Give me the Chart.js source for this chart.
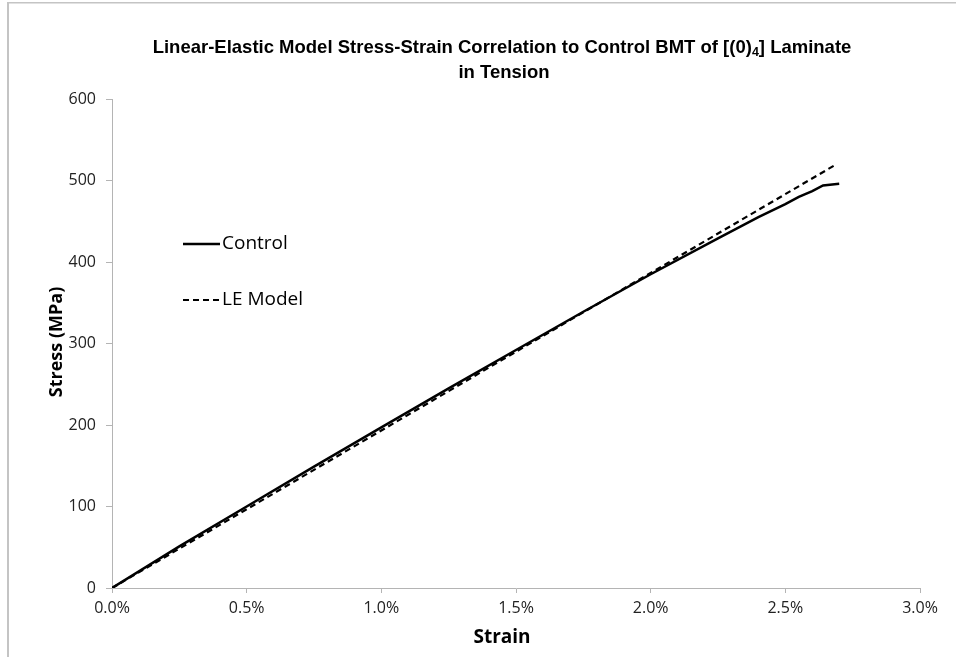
<!DOCTYPE html>
<html><head><meta charset="utf-8">
<script src="https://cdn.jsdelivr.net/npm/chart.js@4/dist/chart.umd.min.js"></script>
<style>html,body{margin:0;padding:0;background:#fff;overflow:hidden;}canvas{display:block;}</style>
</head><body>
<canvas id="c" width="956" height="657"></canvas>
<script>
// ---- data (strain in %, stress in MPa) ----
const controlStrain = [0, 0.25, 0.5, 0.75, 1.0, 1.25, 1.5, 1.75, 2.0, 2.25, 2.4, 2.5, 2.55, 2.6, 2.64, 2.70];
const controlStress = [0, 51, 100, 149, 197, 245, 292, 339, 385, 429, 455, 471, 480, 487, 494, 496];
const modelStrain = [0, 2.69];
const modelStress = [0, 520];
const seriesNames = ['Control', 'LE Model'];
const xTicks = [0, 0.5, 1.0, 1.5, 2.0, 2.5, 3.0];
const yTicks = [0, 100, 200, 300, 400, 500, 600];
const titleMain = 'Linear-Elastic Model Stress-Strain Correlation to Control BMT of [(0)';
const titleSub = '4';
const titleEnd = '] Laminate';
const titleLine2 = 'in Tension';
const xTitle = 'Strain';
const yTitle = 'Stress (MPa)';

const toPts = (xs, ys) => xs.map((x, i) => ({x: x, y: ys[i]}));

const TICK_FONT = '"Open Sans", sans-serif';
const TITLE_FONT = '"Liberation Sans Narrow", "Liberation Sans", sans-serif';

const decor = {
  id: 'decor',
  beforeDraw(chart) {
    const ctx = chart.ctx;
    ctx.save();
    ctx.fillStyle = '#fff';
    ctx.fillRect(0, 0, chart.width, chart.height);
    ctx.fillStyle = '#c4c4c4';
    ctx.fillRect(7, 2, 2, chart.height - 2);
    ctx.fillRect(7, 2, chart.width - 7, 1.5);
    ctx.restore();
  },
  afterDraw(chart) {
    const ctx = chart.ctx;
    ctx.save();
    ctx.fillStyle = '#000';
    ctx.textBaseline = 'middle';
    // title line 1 with subscript
    const f1 = 'bold 18.5px ' + TITLE_FONT;
    const fs = 'bold 12.5px ' + TITLE_FONT;
    ctx.font = f1;
    const w1 = ctx.measureText(titleMain).width;
    const w3 = ctx.measureText(titleEnd).width;
    ctx.font = fs;
    const w2 = ctx.measureText(titleSub).width;
    const total = w1 + w2 + w3;
    let x = 502 - total / 2;
    const y = 48;
    ctx.textAlign = 'left';
    ctx.font = f1; ctx.fillText(titleMain, x, y); x += w1;
    ctx.font = fs; ctx.fillText(titleSub, x, y + 5); x += w2;
    ctx.font = f1; ctx.fillText(titleEnd, x, y);
    ctx.textAlign = 'center';
    ctx.fillText(titleLine2, 504, 73);
    // axis titles
    ctx.font = 'bold 19px ' + TICK_FONT;
    ctx.fillText(xTitle, 502, 638);
    ctx.save();
    ctx.translate(57, 342);
    ctx.rotate(-Math.PI / 2);
    ctx.font = 'bold 18px ' + TICK_FONT;
    ctx.fillText(yTitle, 0, 0);
    ctx.restore();
    // legend
    const rows = [244, 300];
    chart.data.datasets.forEach((ds, i) => {
      const ly = rows[i];
      ctx.save();
      ctx.strokeStyle = ds.borderColor;
      ctx.lineWidth = ds.borderWidth;
      ctx.setLineDash(ds.borderDash || []);
      ctx.beginPath();
      ctx.moveTo(183, ly); ctx.lineTo(220, ly);
      ctx.stroke();
      ctx.restore();
      ctx.font = '19px ' + TICK_FONT;
      ctx.textAlign = 'left';
      ctx.fillStyle = '#000';
      ctx.fillText(ds.label, 222, ly);
    });
    ctx.restore();
  }
};

new Chart(document.getElementById('c'), {
  type: 'scatter',
  data: {
    datasets: [
      {label: seriesNames[0], data: toPts(controlStrain, controlStress), showLine: true,
       borderColor: '#000', borderWidth: 2.5, pointRadius: 0, tension: 0},
      {label: seriesNames[1], data: toPts(modelStrain, modelStress), showLine: true,
       borderColor: '#000', borderWidth: 2.2, borderDash: [6, 4], pointRadius: 0, tension: 0}
    ]
  },
  options: {
    responsive: false,
    animation: false,
    devicePixelRatio: 1,
    layout: {padding: {left: 0, top: 99, right: 36, bottom: 0}},
    plugins: {legend: {display: false}, title: {display: false}, tooltip: {enabled: false}},
    scales: {
      x: {
        type: 'linear', min: xTicks[0], max: xTicks[xTicks.length - 1],
        afterBuildTicks: s => { s.ticks = xTicks.map(v => ({value: v})); },
        afterFit: s => { s.height = 69; },
        ticks: {callback: v => v.toFixed(1) + '%', color: '#222', font: {family: TICK_FONT, size: 16}, padding: 6, maxRotation: 0},
        grid: {drawOnChartArea: false, drawTicks: true, tickLength: 5, color: '#b4b4b4'},
        border: {display: true, color: '#b4b4b4', width: 1}
      },
      y: {
        type: 'linear', min: yTicks[0], max: yTicks[yTicks.length - 1],
        afterBuildTicks: s => { s.ticks = yTicks.map(v => ({value: v})); },
        afterFit: s => { s.width = 112; },
        ticks: {callback: v => String(v), color: '#222', font: {family: TICK_FONT, size: 16}, padding: 10},
        grid: {drawOnChartArea: false, drawTicks: true, tickLength: 6, color: '#b4b4b4'},
        border: {display: true, color: '#b4b4b4', width: 1}
      }
    }
  },
  plugins: [decor]
});
</script>
</body></html>
